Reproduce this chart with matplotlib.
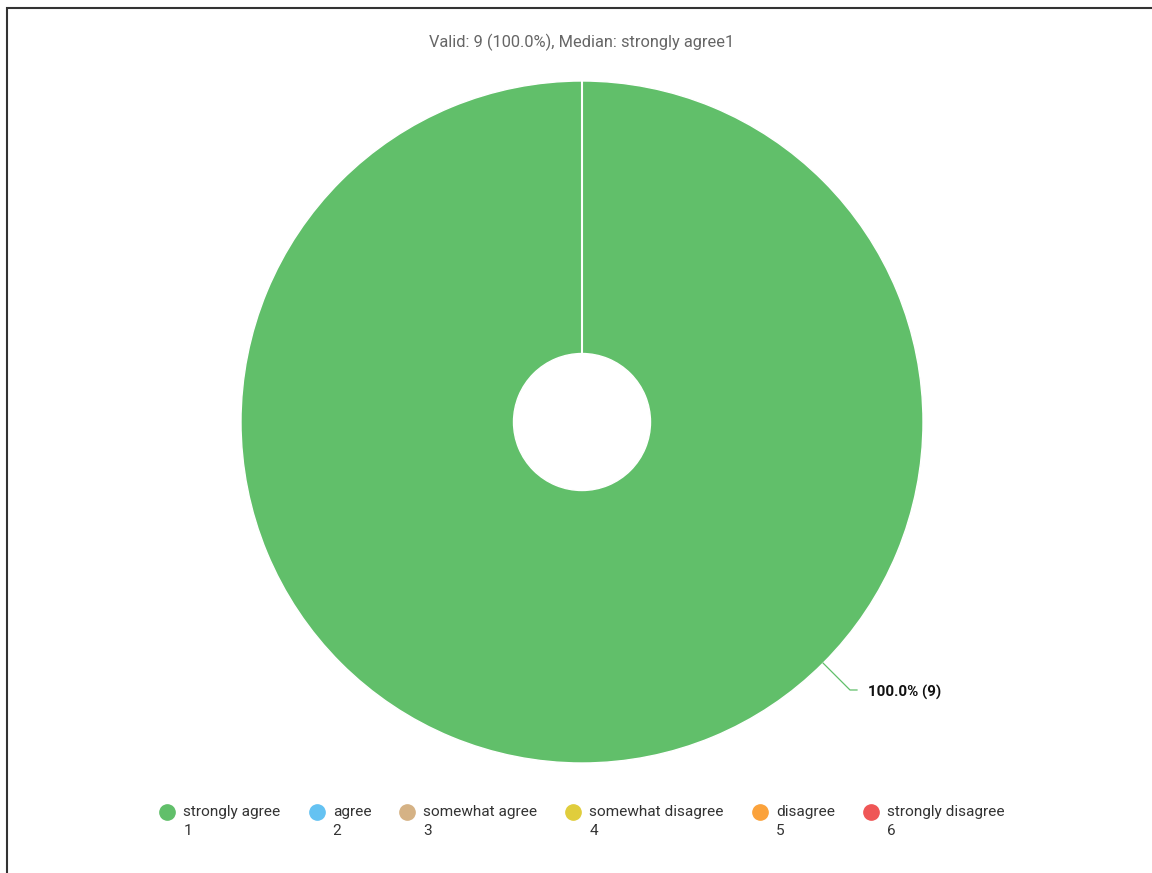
import numpy as np
import matplotlib.pyplot as plt
from matplotlib.patches import Rectangle

plt.rcParams['font.family'] = ['Roboto', 'DejaVu Sans']

# answer categories, codes and counts
categories = ['strongly agree', 'agree', 'somewhat agree',
              'somewhat disagree', 'disagree', 'strongly disagree']
codes = ['1', '2', '3', '4', '5', '6']
counts = [9, 0, 0, 0, 0, 0]
colors = ['#61bf6a', '#64c2f2', '#d5b285', '#e0cd3c', '#fba23b', '#ef5656']

total = sum(counts)
title = 'Valid: %d (100.0%%), Median: strongly agree1' % total

W, H = 1152, 873
fig = plt.figure(figsize=(W/100, H/100), dpi=100)
ax = fig.add_axes([0, 0, 1, 1])

# pie (pixel coords, y pointing down)
cx, cy, R = 582, 422, 341
hole = 68.5
vals = [c for c in counts if c > 0]
cols = [colors[i] for i, c in enumerate(counts) if c > 0]
wedges, _ = ax.pie(vals, colors=cols, center=(cx, cy), radius=R,
                   startangle=-90, counterclock=False,
                   wedgeprops=dict(width=R-hole, edgecolor='white', linewidth=1.0))
ax.set_xlim(0, W)
ax.set_ylim(H, 0)
ax.set_aspect('equal')
ax.axis('off')

# slice borders (a full ring gets no radial edge from matplotlib)
start = 0.0
for c in vals:
    a = np.deg2rad(-90 + 360.0*start/total)
    ax.plot([cx + hole*np.cos(a), cx + R*np.cos(a)],
            [cy + hole*np.sin(a), cy + R*np.sin(a)], color='white', lw=1.5)
    start += c

# data label with connector
for i, c in enumerate(counts):
    if c == 0:
        continue
    ang = np.deg2rad(45)
    x0, y0 = cx + R*np.cos(ang), cy + R*np.sin(ang)
    x1, y1 = cx + (R+38)*np.cos(ang), cy + (R+38)*np.sin(ang)
    ax.plot([x0, x1, x1+7], [y0, y1, y1], color=colors[i], lw=0.9)
    ax.text(x1+18, y1+2, '%.1f%% (%d)' % (100.0*c/total, c),
            fontsize=10.9, fontweight='bold', color='#111111',
            va='center', ha='left')

fig.text(cx/W, 1-42/H, title, ha='center', va='center',
         fontsize=11.8, color='#666666')

# legend, laid out by hand: marker, name, code below
fig.canvas.draw()
rend = fig.canvas.get_renderer()
ly, lstep = 812, 19
items = []
for cat, code, col in zip(categories, codes, colors):
    t1 = ax.text(0, ly, cat, fontsize=11.1, color='#333333', va='center', ha='left')
    t2 = ax.text(0, ly+lstep, code, fontsize=11.1, color='#333333', va='center', ha='left')
    w = max(t1.get_window_extent(rend).width, t2.get_window_extent(rend).width)
    items.append((t1, t2, col, w))
pad, gap = 16, 36
total_w = sum(pad + w for _, _, _, w in items) + gap*(len(items)-1) + 8
x = cx - total_w/2 + 8
for t1, t2, col, w in items:
    ax.plot(x, ly, 'o', ms=11, color=col, mec=col)
    t1.set_x(x + pad)
    t2.set_x(x + pad)
    x += pad + w + gap

# outer frame (only top and left visible in the crop)
fig.patches.append(Rectangle((7/W, -0.1), 1.2, 1-8/H+0.1, transform=fig.transFigure,
                             fill=False, edgecolor='#333333', lw=1.5))

fig.savefig('out.png', dpi=100)
